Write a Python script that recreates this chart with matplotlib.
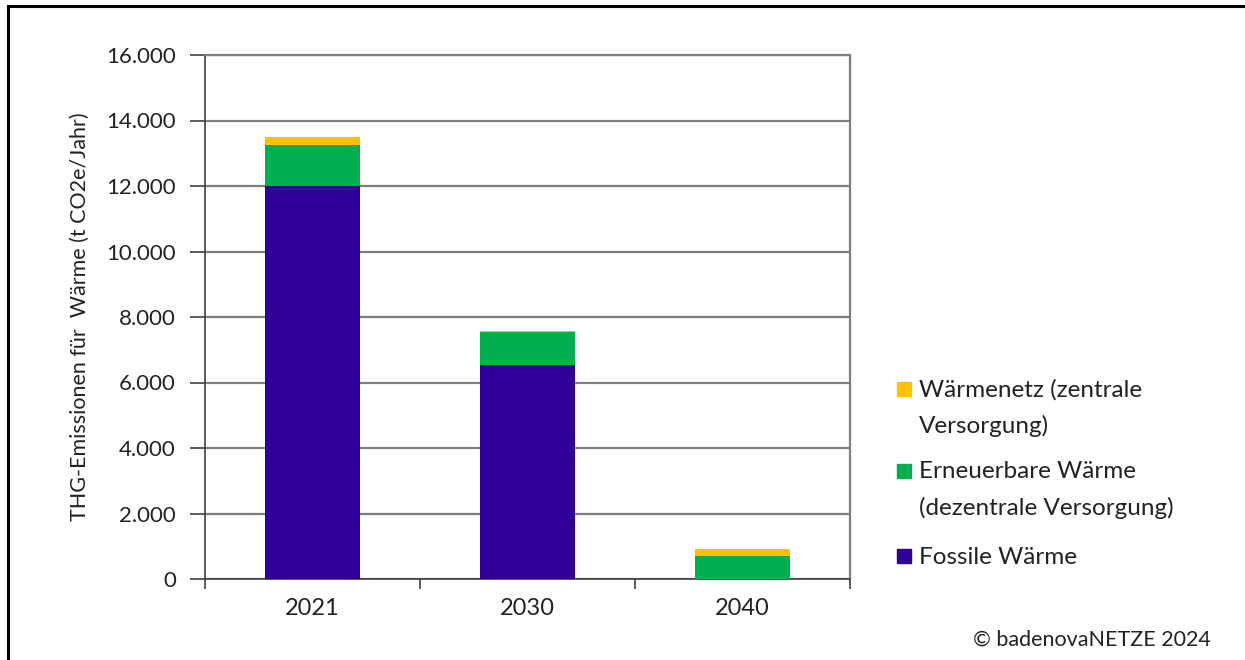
import numpy as np
import matplotlib.pyplot as plt
from matplotlib.patches import Rectangle
from matplotlib.lines import Line2D
from matplotlib.ticker import FuncFormatter, FixedLocator

plt.rcParams['font.family'] = ['Lato', 'DejaVu Sans']

years = ['2021', '2030', '2040']
fossil = [12000, 6530, 0]
erneuerbar = [1250, 1000, 700]
waermenetz = [250, 30, 220]
labels = ['Wärmenetz (zentrale\nVersorgung)', 'Erneuerbare Wärme\n(dezentrale Versorgung)', 'Fossile Wärme']

c_fossil = '#31009A'
c_erneu = '#00B050'
c_netz = '#FFC000'

W, H = 1245, 660
fig = plt.figure(figsize=(W/100, H/100), dpi=100)
ax = fig.add_axes([205/W, 1-579/H, 645/W, 524/H])

x = np.arange(len(years))
w = 0.44
fossil = np.array(fossil)
erneuerbar = np.array(erneuerbar)
waermenetz = np.array(waermenetz)
ax.bar(x, fossil, w, color=c_fossil, zorder=3)
ax.bar(x, erneuerbar, w, bottom=fossil, color=c_erneu, zorder=3)
ax.bar(x, waermenetz, w, bottom=fossil+erneuerbar, color=c_netz, zorder=3)

ax.set_xlim(-0.5, 2.5)
ax.set_ylim(0, 16000)
ax.set_yticks(np.arange(0, 16001, 2000))
ax.yaxis.set_major_formatter(FuncFormatter(lambda v, p: f"{int(v):,}".replace(',', '.')))
ax.set_xticks(x)
ax.set_xticklabels(years)
ax.xaxis.set_minor_locator(FixedLocator([-0.5, 0.5, 1.5, 2.5]))
ax.tick_params(axis='x', which='major', length=0, pad=14, labelsize=17, labelcolor='#222222')
ax.tick_params(axis='x', which='minor', length=7, width=1.2, color='#404040')
ax.tick_params(axis='y', length=11, width=1.2, color='#404040', pad=10, labelsize=16, labelcolor='#222222')

ax.grid(axis='y', color='#7f7f7f', linewidth=1.6, zorder=0)
for s in ['top', 'right']:
    ax.spines[s].set_color('#7f7f7f')
    ax.spines[s].set_linewidth(1.6)
for s in ['left', 'bottom']:
    ax.spines[s].set_color('#404040')
    ax.spines[s].set_linewidth(1.2)

ax.set_ylabel('THG-Emissionen für  Wärme (t CO2e/Jahr)', fontsize=15.5, labelpad=12, color='#222222')

# Legende (Quadrat neben der ersten Zeile, wie im Original)
colors = [c_netz, c_erneu, c_fossil]
entry_y = [389, 471, 556]
for lab, col, ey in zip(labels, colors, entry_y):
    fig.patches.append(Rectangle((897/W, 1-(ey+7)/H), 14/W, 14/H,
                                 transform=fig.transFigure, color=col))
    for k, line in enumerate(lab.split('\n')):
        fig.text(919/W, 1-(ey+1+k*36)/H, line, ha='left', va='center',
                 fontsize=17.5, color='#222222')

fig.text(1211/W, 1-640/H, '© badenovaNETZE 2024', ha='right', va='center',
         fontsize=15.5, color='#222222')

# Rahmen nur links und oben
fig.lines.append(Line2D([7.5/W, 7.5/W], [0, 1-6/H], transform=fig.transFigure, color='black', linewidth=2.2))
fig.lines.append(Line2D([7.5/W, 1], [1-6/H, 1-6/H], transform=fig.transFigure, color='black', linewidth=2.2))

fig.savefig('out.png', dpi=100)
